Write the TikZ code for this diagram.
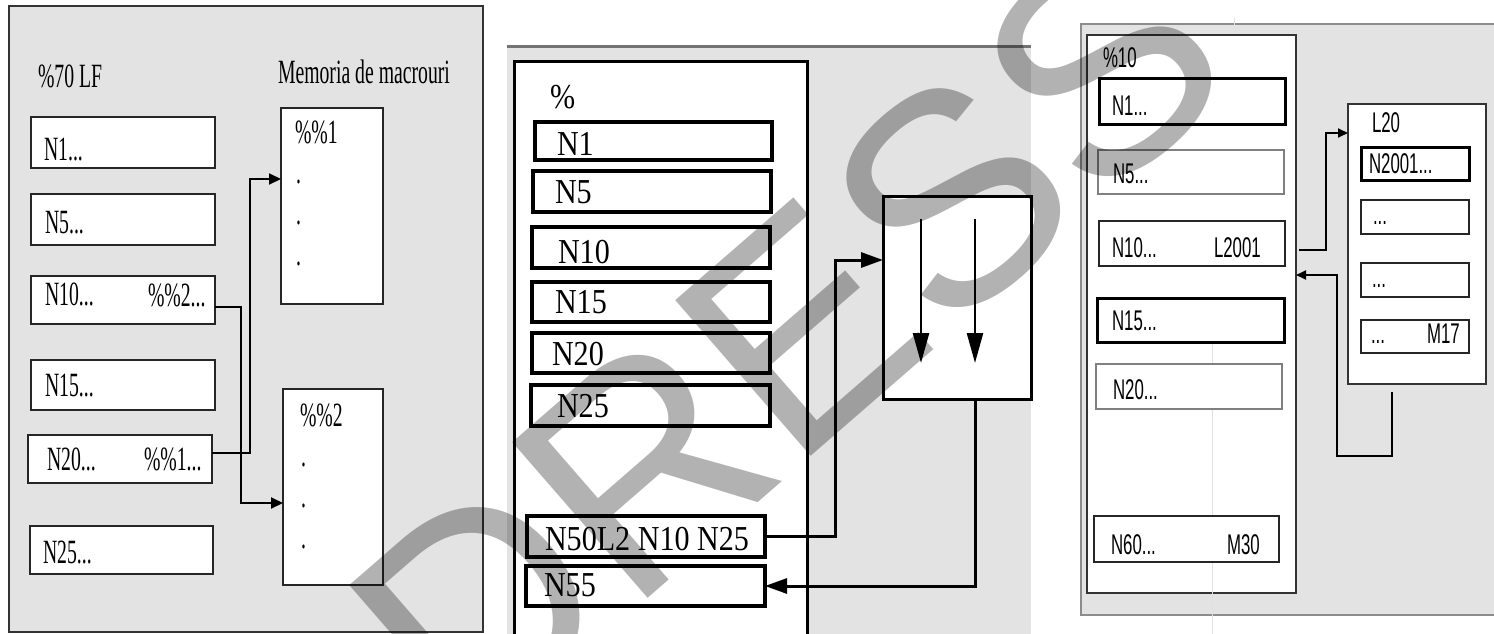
\documentclass[tikz,border=0pt]{standalone}
\usepackage{fontspec}
\setmainfont{Liberation Serif}
\newfontfamily\arialf{Liberation Sans}
\usepackage{graphicx}
\usetikzlibrary{arrows.meta}
\definecolor{panelgray}{HTML}{E3E3E3}
\newcommand{\pA}[1]{\scalebox{0.58}[1]{\fontsize{34}{34}\selectfont #1}}
\newcommand{\pB}[1]{\scalebox{0.86}[1]{\fontsize{35}{35}\selectfont #1}}
\newcommand{\pC}[1]{\scalebox{0.59}[1]{\arialf\fontsize{28.5}{28.5}\selectfont #1}}
\newcommand\bx[6]{\node[#1,minimum width={#4-#2},minimum height={#5-#3}] (#6) at ({(#2+#4)/2},{(#3+#5)/2}) {};}
\newcommand\tx[4]{\node[anchor=base west,inner sep=0pt] (#1) at (#2,#3) {#4};}
\begin{document}
\begin{tikzpicture}[x=1pt,y=-1pt,
  every node/.style={inner sep=0pt,outer sep=0pt},
  bgA/.style={draw=black!80,line width=2pt,fill=panelgray},
  boxA/.style={draw=black!85,line width=2pt,fill=white},
  conA/.style={draw=black,line width=2pt},
  arrA/.style={conA,-{Triangle[length=12pt,width=11pt]}},
  boxB/.style={draw=black,line width=3.5pt,fill=white},
  bigB/.style={draw=black,line width=3pt,fill=white},
  conB/.style={draw=black,line width=3pt},
  arrB/.style={conB,-{Triangle[length=22pt,width=15pt]}},
  arrBi/.style={draw=black,line width=2.5pt,-{Triangle[length=30pt,width=16pt]}},
  bgC/.style={draw=black!45,line width=2.5pt,fill=panelgray},
  progC/.style={draw=black!80,line width=2pt,fill=white},
  boxC/.style={draw=black!85,line width=2pt,fill=white},
  boxCk/.style={draw=black,line width=3pt,fill=white},
  boxCl/.style={draw=black!50,line width=2pt,fill=white},
  conC/.style={draw=black,line width=1.8pt},
  arrC/.style={conC,-{Triangle[length=10pt,width=9pt]}},
  faint/.style={draw=black!12,line width=0.8pt}
]
\useasboundingbox (0,0) rectangle (1494,634);
\clip (0,0) rectangle (1494,634);
\fill[white] (0,0) rectangle (1494,634);

% ---------------- Panel 1 ----------------
\bx{bgA}{9}{6}{483}{632}{P1}
\bx{boxA}{31}{117}{215}{168}{a1}
\bx{boxA}{31}{194}{215}{245}{a5}
\bx{boxA}{31}{276}{215}{324}{a10}
\bx{boxA}{31}{360}{215}{410}{a15}
\bx{boxA}{28}{435}{212}{483}{a20}
\bx{boxA}{30}{526}{213}{574}{a25}
\bx{boxA}{281}{108}{383}{304}{m1}
\bx{boxA}{283}{389}{383}{585}{m2}
\tx{t1a}{38}{88}{\pA{\%70 LF}}
\tx{t1b}{278}{83}{\pA{Memoria de macrouri}}
\tx{t1c}{44}{160}{\pA{N1...}}
\tx{t1d}{45}{233}{\pA{N5...}}
\tx{t1e}{45}{305}{\pA{N10...}}
\tx{t1f}{148}{306}{\pA{\%\%2...}}
\tx{t1g}{45}{396}{\pA{N15...}}
\tx{t1h}{47}{470}{\pA{N20...}}
\tx{t1i}{144}{470}{\pA{\%\%1...}}
\tx{t1j}{43}{563}{\pA{N25...}}
\tx{t1k}{295}{143}{\pA{\%\%1}}
\tx{t1l}{300}{426}{\pA{\%\%2}}
\tx{d1a}{296}{183}{\pA{.}}
\tx{d1b}{296}{224}{\pA{.}}
\tx{d1c}{296}{265}{\pA{.}}
\tx{d2a}{301}{466}{\pA{.}}
\tx{d2b}{301}{507}{\pA{.}}
\tx{d2c}{301}{548}{\pA{.}}
\coordinate (k1) at (241,503);
\coordinate (k2) at (250,179);
\draw[arrA] ([yshift=-7pt]a10.east) -| (k1) -- (k1 -| m2.west);
\draw[arrA] ([yshift=6pt]a20.east) -| (k2) -- (k2 -| m1.west);

% ---------------- Panel 2 ----------------
\fill[panelgray] (507,47) rectangle (1031,640);
\draw[draw=black!55,line width=3pt] (507,47) -- (1031,47);
\bx{bigB}{514}{62}{807}{660}{prog2}
\bx{boxB}{535}{122}{772}{160}{b1}
\bx{boxB}{533}{171}{771}{212}{b5}
\bx{boxB}{532}{227}{770}{268}{b10}
\bx{boxB}{532}{282}{770}{322}{b15}
\bx{boxB}{532}{333}{770}{373}{b20}
\bx{boxB}{531}{385}{770}{426}{b25}
\bx{boxB}{527}{516}{765}{557}{b50}
\bx{boxB}{526}{566}{765}{606}{b55}
\bx{bigB}{883}{196}{1031}{399}{ab}
\tx{t2a}{550}{108}{\pB{\%}}
\tx{t2b}{557}{155}{\pB{N1}}
\tx{t2c}{555}{203}{\pB{N5}}
\tx{t2d}{558}{263}{\pB{N10}}
\tx{t2e}{555}{313}{\pB{N15}}
\tx{t2f}{552}{365}{\pB{N20}}
\tx{t2g}{557}{417}{\pB{N25}}
\tx{t2h}{545}{550}{\pB{N50L2 N10 N25}}
\tx{t2i}{544}{596}{\pB{N55}}
\coordinate (k3) at (835,260);
\coordinate (k4) at (975,586);
\draw[arrB] (b50.east) -| (k3) -- (k3 -| ab.west);
\draw[arrB] (ab.south -| k4) -- (k4) -- (b55.east);
\coordinate (i1s) at (921,219);
\coordinate (i1e) at (921,363);
\coordinate (i2s) at (975,219);
\coordinate (i2e) at (975,363);
\draw[arrBi] (i1s) -- (i1e);
\draw[arrBi] (i2s) -- (i2e);

% ---------------- Panel 3 ----------------
\bx{bgC}{1081}{24}{1510}{615}{P3}
\draw[faint] (1234,18) -- (1234,25);
\bx{progC}{1087}{35}{1296}{593}{prog3}
\draw[faint] (1212,300) -- (1212,634);
\bx{boxCk}{1099}{79}{1285}{124}{c1}
\bx{boxCl}{1098}{150}{1284}{194}{c5}
\bx{boxC}{1099}{221}{1285}{266}{c10}
\bx{boxCk}{1097}{298}{1284}{342}{c15}
\bx{boxCl}{1096}{364}{1282}{409}{c20}
\bx{boxC}{1094}{516}{1279}{562}{c60}
\bx{progC}{1348}{104}{1486}{384}{l20}
\bx{boxCk}{1361}{147}{1469}{180}{s1}
\bx{boxC}{1361}{200}{1469}{234}{s2}
\bx{boxC}{1361}{263}{1469}{297}{s3}
\bx{boxC}{1361}{320}{1469}{353}{s4}
\tx{t3a}{1103}{67}{\pC{\%10}}
\tx{t3b}{1112}{115}{\pC{N1...}}
\tx{t3c}{1113}{183}{\pC{N5...}}
\tx{t3d}{1112}{257}{\pC{N10...}}
\tx{t3e}{1214}{257}{\pC{L2001}}
\tx{t3f}{1112}{330}{\pC{N15...}}
\tx{t3g}{1113}{399}{\pC{N20...}}
\tx{t3h}{1111}{554}{\pC{N60...}}
\tx{t3i}{1227}{554}{\pC{M30}}
\tx{t3j}{1372}{132}{\pC{L20}}
\tx{t3k}{1369}{173}{\pC{N2001...}}
\tx{t3l}{1373}{224}{\pC{...}}
\tx{t3m}{1372}{287}{\pC{...}}
\tx{t3n}{1371}{343}{\pC{...}}
\tx{t3o}{1427}{343}{\pC{M17}}
\coordinate (s5) at (1299,250);
\coordinate (k5) at (1326,133);
\draw[arrC] (s5) -| (k5) -- (k5 -| l20.west);
\coordinate (r1) at (1392,392);
\coordinate (r2) at (1337,456);
\coordinate (r3) at (1337,275);
\draw[arrC] (r1) |- (r2) -- (r3) -- (r3 -| prog3.east);

% ---------------- watermark ----------------
\node[anchor=base west,rotate=41,text=black,text opacity=0.3,font=\arialf\fontsize{300}{300}\selectfont] (wm) at (466,757) {DRESS};
\end{tikzpicture}
\end{document}
